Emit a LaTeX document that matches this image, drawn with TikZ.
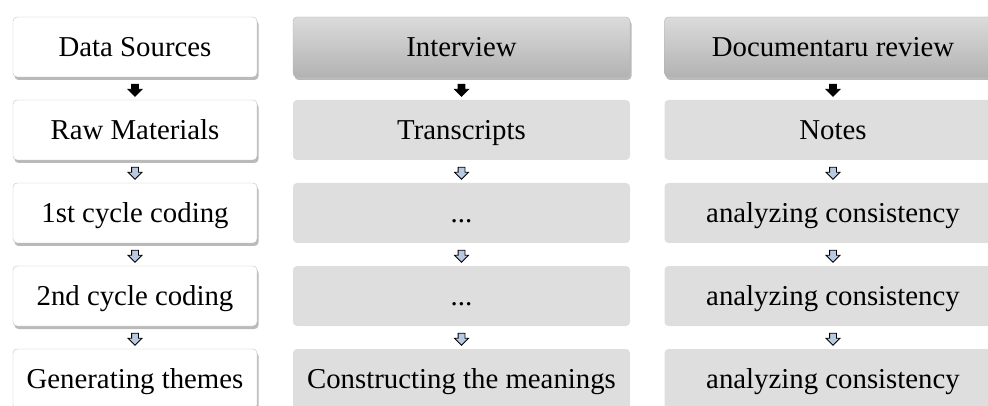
\documentclass[tikz,border=0pt]{standalone}
\usepackage{fontspec}
\setmainfont{Liberation Serif}
\usetikzlibrary{shadows,shapes.arrows}

\begin{document}
\begin{tikzpicture}
	[x=1pt,y=1pt,line cap=round,
	%Styles
	box/.style={rounded corners=4pt,minimum height=60pt,inner sep=0pt,text height=25pt,text depth=6pt,
		font=\fontsize{28.8}{34}\selectfont},
	stage box/.style={box,minimum width=244pt,fill=white,draw=black!25,
		drop shadow={shadow xshift=1.5pt,shadow yshift=-3pt,fill=black!60,opacity=0.45}},
	head box/.style={box,minimum width=337pt,draw=black!30,top color=black!14,bottom color=black!30,
		drop shadow={shadow xshift=1.5pt,shadow yshift=-3pt,fill=black!60,opacity=0.45}},
	plain box/.style={box,minimum width=337pt,fill=black!13},
	down arrow/.style={single arrow,shape border rotate=270,draw=black,fill=#1,line width=0.8pt,
		single arrow head extend=3.5pt,inner sep=3pt,minimum height=12pt}
	]
	
	%Colors
	\definecolor{arrowblue}{RGB}{185,201,226}	%arrow fill
	
	\clip (0,0) rectangle (988,-406);
	
	%The graphic
	\node[stage box] (ds) at (135,-47) {Data Sources};
	\node[stage box] (rm) at (135,-130) {Raw Materials};
	\node[stage box] (fc) at (135,-213) {1st cycle coding};
	\node[stage box] (sc) at (135,-296) {2nd cycle coding};
	\node[stage box] (gt) at (135,-379) {Generating themes};
	
	\node[head box] (iv) at (461.5,-47) {Interview};
	\node[plain box] (tr) at (461.5,-130) {Transcripts};
	\node[plain box] (id1) at (461.5,-213) {...};
	\node[plain box] (id2) at (461.5,-296) {...};
	\node[plain box] (cm) at (461.5,-379) {Constructing the meanings};
	
	\node[head box] (dr) at (833,-47) {Documentaru review};
	\node[plain box] (nt) at (833,-130) {Notes};
	\node[plain box] (ac1) at (833,-213) {analyzing consistency};
	\node[plain box] (ac2) at (833,-296) {analyzing consistency};
	\node[plain box] (ac3) at (833,-379) {analyzing consistency};
	
	\path	(ds) -- node[down arrow=black] {} (rm)
			(rm) -- node[down arrow=arrowblue] {} (fc)
			(fc) -- node[down arrow=arrowblue] {} (sc)
			(sc) -- node[down arrow=arrowblue] {} (gt);
	\path	(iv) -- node[down arrow=black] {} (tr)
			(tr) -- node[down arrow=arrowblue] {} (id1)
			(id1) -- node[down arrow=arrowblue] {} (id2)
			(id2) -- node[down arrow=arrowblue] {} (cm);
	\path	(dr) -- node[down arrow=black] {} (nt)
			(nt) -- node[down arrow=arrowblue] {} (ac1)
			(ac1) -- node[down arrow=arrowblue] {} (ac2)
			(ac2) -- node[down arrow=arrowblue] {} (ac3);
\end{tikzpicture}
\end{document}
